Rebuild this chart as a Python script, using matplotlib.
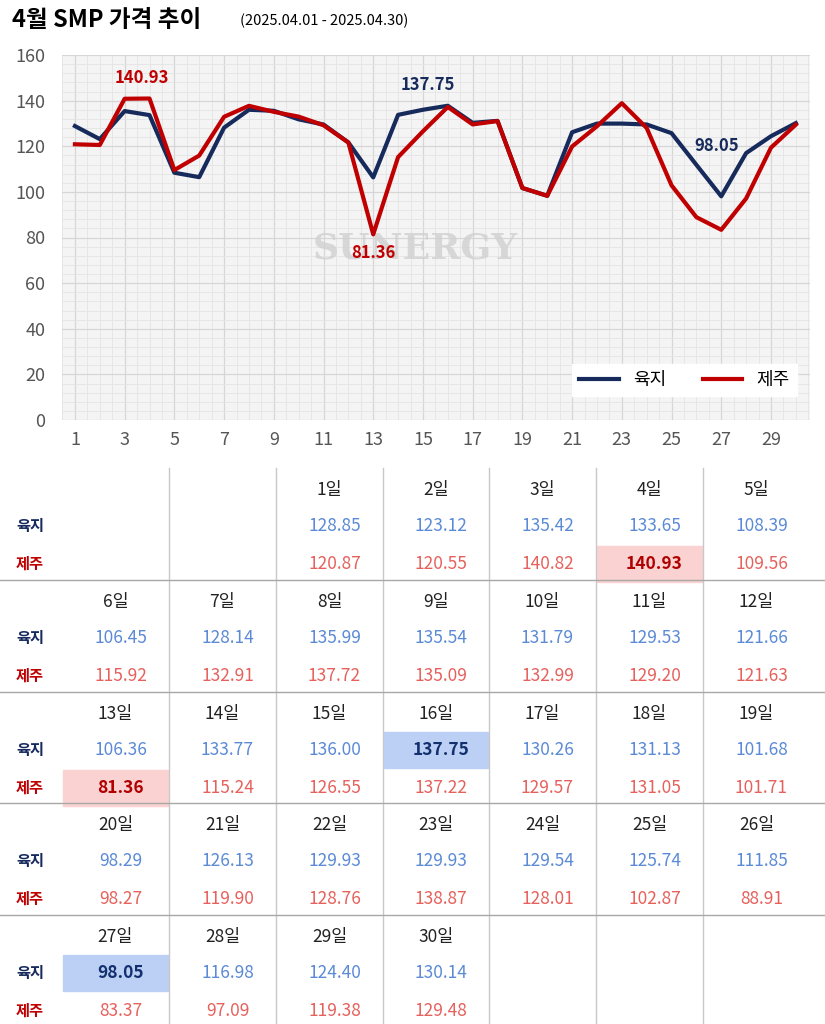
import numpy as np
import matplotlib.pyplot as plt
from matplotlib.ticker import MultipleLocator

plt.rcParams['font.family'] = ['Noto Sans CJK KR', 'Noto Sans CJK JP', 'Noto Sans CJK SC', 'DejaVu Sans']

days = list(range(1, 31))
yukji = [128.85, 123.12, 135.42, 133.65, 108.39, 106.45, 128.14, 135.99, 135.54, 131.79,
         129.53, 121.66, 106.36, 133.77, 136.00, 137.75, 130.26, 131.13, 101.68, 98.29,
         126.13, 129.93, 129.93, 129.54, 125.74, 111.85, 98.05, 116.98, 124.40, 130.14]
jeju = [120.87, 120.55, 140.82, 140.93, 109.56, 115.92, 132.91, 137.72, 135.09, 132.99,
        129.20, 121.63, 81.36, 115.24, 126.55, 137.22, 129.57, 131.05, 101.71, 98.27,
        119.90, 128.76, 138.87, 128.01, 102.87, 88.91, 83.37, 97.09, 119.38, 129.48]
first_col = 2  # 4월 1일 = 화요일 칸

NAVY = '#162a5c'
RED = '#c00000'
VAL_BLUE = '#5b8ad6'
VAL_RED = '#e6615c'

fig = plt.figure(figsize=(8.25, 10.24), dpi=100)
W, H = 825, 1024

# 제목
fig.text(12 / W, 1 - 20 / H, '4월 SMP 가격 추이', fontsize=17, fontweight='bold', va='center')
fig.text(240 / W, 1 - 21 / H, '(2025.04.01 - 2025.04.30)', fontsize=10.5, va='center')

# 그래프
ax = fig.add_axes([62 / W, 1 - 420 / H, 748 / W, 365 / H])
ax.set_facecolor('#f4f4f4')
ax.plot(days, yukji, color=NAVY, lw=3, label='육지', zorder=3)
ax.plot(days, jeju, color=RED, lw=3, label='제주', zorder=3)
ax.set_xlim(0.48, 30.57)
ax.set_ylim(0, 160)
ax.set_xticks(range(1, 30, 2))
ax.set_yticks(range(0, 161, 20))
ax.xaxis.set_minor_locator(MultipleLocator(0.5))
ax.yaxis.set_minor_locator(MultipleLocator(4))
ax.grid(which='major', color='#d6d6d6', lw=0.9)
ax.grid(which='minor', color='#e4e4e4', lw=0.6)
ax.set_axisbelow(True)
for s in ax.spines.values():
    s.set_visible(False)
ax.tick_params(which='both', length=0, labelsize=13, colors='#555555', pad=8)
ax.tick_params(axis='y', pad=12)
ax.text(14.7, 75, 'SUNERGY', fontsize=26, fontweight='bold', family='DejaVu Serif',
        color='#d0d0d0', alpha=0.8, ha='center', va='center', zorder=1)

ax.text(3.7, 150, '140.93', color=RED, fontsize=12, fontweight='bold', ha='center', va='center')
ax.text(15.2, 147, '137.75', color=NAVY, fontsize=12, fontweight='bold', ha='center', va='center')
ax.text(13, 73, '81.36', color=RED, fontsize=12, fontweight='bold', ha='center', va='center', zorder=4)
ax.text(26.8, 120, '98.05', color=NAVY, fontsize=12, fontweight='bold', ha='center', va='center')
ax.legend(loc='lower right', ncol=2, fontsize=13, frameon=True, fancybox=False,
          edgecolor='white', framealpha=1, bbox_to_anchor=(0.995, 0.04),
          handlelength=2.2, columnspacing=2)

# 표
tx = fig.add_axes([0, 0, 1, 1])
tx.set_xlim(0, W)
tx.set_ylim(H, 0)
tx.axis('off')
col_x = [62, 169, 276, 383, 489, 596, 703, 810]
row_y = [468, 580, 692, 803, 915, 1024]
for x in col_x[1:-1]:
    tx.plot([x, x], [row_y[0], row_y[-1]], color='#c8c8c8', lw=1)
for y in row_y[1:-1]:
    tx.plot([0, W], [y, y], color='#a8a8a8', lw=1)

max_y, min_y = int(np.argmax(yukji)), int(np.argmin(yukji))
max_j, min_j = int(np.argmax(jeju)), int(np.argmin(jeju))

for i, d in enumerate(days):
    pos = i + first_col
    r, c = divmod(pos, 7)
    x0, x1 = col_x[c], col_x[c + 1]
    cx = (x0 + x1) / 2
    top = row_y[r]
    tx.text(cx, top + 22, f'{d}일', fontsize=12.5, ha='center', va='center', color='#222222')
    rows = [(yukji, VAL_BLUE, '#bcd0f5', '#12306e', max_y, min_y, 58),
            (jeju, VAL_RED, '#fbd2d2', '#b00000', max_j, min_j, 96)]
    for vals, col, hi, bcol, mx, mn, dy in rows:
        bold = i in (mx, mn)
        if bold:
            tx.add_patch(plt.Rectangle((x0 + 1, top + dy - 18), x1 - x0 - 2, 36,
                                       color=hi, zorder=0))
        tx.text(cx + 5, top + dy, f'{vals[i]:.2f}', fontsize=12.5, ha='center', va='center',
                color=bcol if bold else col, fontweight='bold' if bold else 'normal')

for r in range(5):
    top = row_y[r]
    tx.text(30, top + 58, '육지', fontsize=11, fontweight='bold', color=NAVY, ha='center', va='center')
    tx.text(30, top + 96, '제주', fontsize=11, fontweight='bold', color=RED, ha='center', va='center')

fig.savefig('out.png', dpi=100)
